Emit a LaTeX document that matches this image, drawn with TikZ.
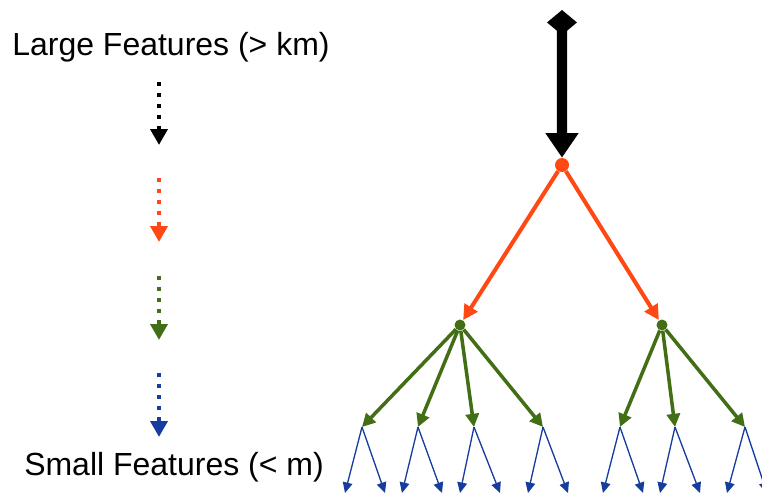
\documentclass[tikz,border=0pt]{standalone}
\usepackage{fontspec}
\setmainfont{Liberation Sans}
\usetikzlibrary{arrows.meta}
\definecolor{featred}{RGB}{255,72,20}
\definecolor{featgreen}{RGB}{66,110,22}
\definecolor{featblue}{RGB}{22,60,158}
\begin{document}
\begin{tikzpicture}[scale=0.2]
	\tikzstyle{every node}+=[inner sep=0pt]
	\tikzstyle{label}=[anchor=base,font=\fontsize{18.2}{22}\selectfont]
	\tikzstyle{legend}=[line width=2.5pt,dash pattern=on 2.3pt off 4pt,-{Triangle[length=9pt,width=9.5pt]}]
	\tikzstyle{reddot}=[circle,fill=featred,minimum size=0.28cm]
	\tikzstyle{greendot}=[circle,fill=featgreen,minimum size=0.22cm]
	\tikzstyle{redarrow}=[featred,line width=2.3pt,-{Triangle[length=8.5pt,width=8.5pt]}]
	\tikzstyle{greenarrow}=[featgreen,line width=2pt,-{Triangle[length=7.5pt,width=7.5pt]}]
	\tikzstyle{bluearrow}=[featblue,line width=0.75pt,-{Triangle[length=6pt,width=5.5pt]}]
	\useasboundingbox (0,0) rectangle (76.2,-49.4);
	% scale labels
	\node [label] (large) at (17.1,-5.5) {Large Features (> km)};
	\node [label] (small) at (17.4,-47.5) {Small Features (< m)};
	% legend arrows
	\coordinate (k1) at (15.9,-8.2);
	\coordinate (k2) at (15.9,-14.5);
	\coordinate (r1) at (15.9,-17.8);
	\coordinate (r2) at (15.9,-24.2);
	\coordinate (g1) at (15.9,-27.6);
	\coordinate (g2) at (15.9,-34);
	\coordinate (b1) at (15.9,-37.3);
	\coordinate (b2) at (15.9,-43.7);
	\draw [legend,black] (k1) -- (k2);
	\draw [legend,featred] (r1) -- (r2);
	\draw [legend,featgreen] (g1) -- (g2);
	\draw [legend,featblue] (b1) -- (b2);
	% tree
	\coordinate (top) at (56.2,-1);
	\node [reddot] (root) at (56.2,-16.5) {};
	\node [greendot] (gl) at (46,-32.5) {};
	\node [greendot] (gr) at (66.2,-32.5) {};
	\coordinate (c1) at (36.2,-42.7);
	\coordinate (c2) at (41.8,-42.7);
	\coordinate (c3) at (47.4,-42.7);
	\coordinate (c4) at (54.3,-42.7);
	\coordinate (c5) at (62,-42.7);
	\coordinate (c6) at (67.5,-42.7);
	\coordinate (c7) at (74.5,-42.7);
	\draw [black,line width=5.7pt,{Diamond[length=14.2pt,width=17pt]}-{Triangle[length=14pt,width=18pt]}] (top) -- (root);
	\draw [redarrow] (root) -- (gl);
	\draw [redarrow] (root) -- (gr);
	\draw [greenarrow] (gl) -- (c1);
	\draw [greenarrow] (gl) -- (c2);
	\draw [greenarrow] (gl) -- (c3);
	\draw [greenarrow] (gl) -- (c4);
	\draw [greenarrow] (gr) -- (c5);
	\draw [greenarrow] (gr) -- (c6);
	\draw [greenarrow] (gr) -- (c7);
	% leaves
	\coordinate (l1) at (34.5,-49.3);
	\coordinate (l2) at (38.5,-49.3);
	\coordinate (l3) at (40.2,-49.3);
	\coordinate (l4) at (44.2,-49.3);
	\coordinate (l5) at (46,-49.3);
	\coordinate (l6) at (50,-49.3);
	\coordinate (l7) at (52.8,-49.3);
	\coordinate (l8) at (56.8,-49.3);
	\coordinate (l9) at (60.3,-49.3);
	\coordinate (l10) at (64.3,-49.3);
	\coordinate (l11) at (66,-49.3);
	\coordinate (l12) at (70,-49.3);
	\coordinate (l13) at (72.7,-49.3);
	\coordinate (l14) at (76.7,-49.3);
	\draw [bluearrow] (c1) -- (l1);
	\draw [bluearrow] (c1) -- (l2);
	\draw [bluearrow] (c2) -- (l3);
	\draw [bluearrow] (c2) -- (l4);
	\draw [bluearrow] (c3) -- (l5);
	\draw [bluearrow] (c3) -- (l6);
	\draw [bluearrow] (c4) -- (l7);
	\draw [bluearrow] (c4) -- (l8);
	\draw [bluearrow] (c5) -- (l9);
	\draw [bluearrow] (c5) -- (l10);
	\draw [bluearrow] (c6) -- (l11);
	\draw [bluearrow] (c6) -- (l12);
	\draw [bluearrow] (c7) -- (l13);
	\draw [bluearrow] (c7) -- (l14);
\end{tikzpicture}
\end{document}
